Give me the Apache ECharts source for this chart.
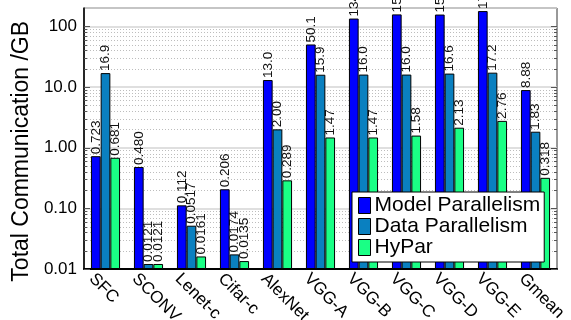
<!DOCTYPE html>
<html>
<head>
<meta charset="utf-8">
<script src="https://cdn.jsdelivr.net/npm/echarts@6/dist/echarts.min.js"></script>
<style>
  html, body { margin: 0; padding: 0; background: #fff; }
  #chart { width: 571px; height: 320px; }
</style>
</head>
<body>
<div id="chart"></div>
<script>
// Workloads on the x axis
const categories = ['SFC', 'SCONV', 'Lenet-c', 'Cifar-c', 'AlexNet', 'VGG-A',
  'VGG-B', 'VGG-C', 'VGG-D', 'VGG-E', 'Gmean'];

// Total communication in GB per parallelism scheme
const modelParallelism = [0.723, 0.480, 0.112, 0.206, 13.0, 50.1, 134, 157, 156, 178, 8.88];
const dataParallelism  = [16.9, 0.0121, 0.0517, 0.0174, 2.00, 15.9, 16.0, 16.0, 16.6, 17.2, 1.83];
const hyPar            = [0.681, 0.0121, 0.0161, 0.0135, 0.289, 1.47, 1.47, 1.58, 2.13, 2.76, 0.318];

// Y axis (log) labels at each decade
const majorTicks = [0.01, 0.1, 1, 10, 100];
const majorTickLabels = ['0.01', '0.10', '1.00', '10.0', '100'];

// Minor ticks: 2..9 within every decade up to the axis top
const minorTicks = [];
majorTicks.forEach(d => {
  for (let k = 2; k <= 9; k++) {
    const v = +(d * k).toPrecision(3);
    if (v < 200) minorTicks.push(v);
  }
});

const FONT = '"Liberation Sans", Arial, Helvetica, sans-serif';
const labelFmt = p => Number(p.value).toPrecision(3);

const barLabel = {
  show: true,
  position: 'top',
  rotate: 90,
  align: 'left',
  verticalAlign: 'middle',
  distance: 2,
  fontFamily: FONT,
  fontSize: 13.5,
  color: '#111',
  formatter: labelFmt
};

function barSeries(name, data, color) {
  return {
    name: name,
    type: 'bar',
    data: data,
    barWidth: 9.7,
    barGap: '0%',
    z: 3,
    itemStyle: { color: color, borderColor: '#000', borderWidth: 1 },
    label: barLabel
  };
}

// Dotted minor grid plus inward ticks on both vertical frame edges
const tickData = minorTicks.map(v => [0, v, 0]).concat(majorTicks.map(v => [0, v, 1]));
const tickSeries = {
  type: 'custom',
  z: 1,
  silent: true,
  clip: false,
  encode: { x: 0, y: 1 },
  data: tickData,
  renderItem: function (params, api) {
    const cs = params.coordSys;
    const y = Math.round(api.coord([0, api.value(1)])[1]) + 0.5;
    const major = api.value(2) === 1;
    const len = major ? 6 : 3;
    const children = [];
    if (!major) {
      children.push({
        type: 'line',
        shape: { x1: cs.x, y1: y, x2: cs.x + cs.width, y2: y },
        style: { stroke: '#bdbdbd', lineWidth: 1, lineDash: [1, 2] }
      });
    }
    children.push({
      type: 'line',
      shape: { x1: cs.x, y1: y, x2: cs.x + len, y2: y },
      style: { stroke: '#555', lineWidth: 1 }
    });
    children.push({
      type: 'line',
      shape: { x1: cs.x + cs.width - len, y1: y, x2: cs.x + cs.width, y2: y },
      style: { stroke: '#555', lineWidth: 1 }
    });
    return { type: 'group', children: children };
  }
};

const chart = echarts.init(document.getElementById('chart'), null, { renderer: 'canvas' });
chart.setOption({
  animation: false,
  backgroundColor: '#fff',
  textStyle: { fontFamily: FONT },
  grid: {
    left: 84, right: 14, top: 8, bottom: 51,
    containLabel: false,
    outerBoundsMode: 'none',
    show: true, borderColor: '#333', borderWidth: 1, backgroundColor: 'transparent'
  },
  legend: {
    orient: 'vertical',
    left: 352, top: 192,
    data: ['Model Parallelism', 'Data Parallelism', 'HyPar'],
    backgroundColor: '#fff',
    borderColor: '#000',
    borderWidth: 1,
    borderRadius: 0,
    padding: [3, 4, 4, 6],
    itemGap: 0,
    itemWidth: 12,
    itemHeight: 16,
    icon: 'rect',
    itemStyle: { borderColor: '#000', borderWidth: 1 },
    textStyle: { fontFamily: FONT, fontSize: 21, lineHeight: 20, color: '#000', padding: [0, 0, 0, -1] }
  },
  xAxis: {
    type: 'category',
    data: categories,
    axisLine: { lineStyle: { color: '#000', width: 2 } },
    axisTick: { show: false },
    axisLabel: {
      interval: 0,
      rotate: -45,
      align: 'left',
      verticalAlign: 'top',
      margin: 9,
      padding: [0, 0, 0, -11],
      fontFamily: FONT,
      fontSize: 17,
      color: '#000'
    }
  },
  yAxis: {
    type: 'log',
    logBase: 10,
    min: 0.01,
    max: 200,
    startValue: 0.01,
    name: 'Total Communication /GB    ',
    nameLocation: 'middle',
    nameGap: 44,
    nameTextStyle: { fontFamily: FONT, fontSize: 23, color: '#000' },
    axisLine: { show: true, lineStyle: { color: '#000', width: 1.5 } },
    axisTick: { show: false },
    splitLine: { show: true, lineStyle: { color: '#d4d4d4', width: 1.5 } },
    axisLabel: {
      fontFamily: FONT,
      fontSize: 17,
      color: '#000',
      margin: 7,
      showMaxLabel: false,
      formatter: function (v) {
        for (let i = 0; i < majorTicks.length; i++) {
          if (Math.abs(v - majorTicks[i]) < majorTicks[i] * 1e-6) return majorTickLabels[i];
        }
        return '';
      }
    }
  },
  series: [
    tickSeries,
    barSeries('Model Parallelism', modelParallelism, '#0000ff'),
    barSeries('Data Parallelism', dataParallelism, '#0a80c0'),
    barSeries('HyPar', hyPar, '#1aff85')
  ]
});
</script>
</body>
</html>
